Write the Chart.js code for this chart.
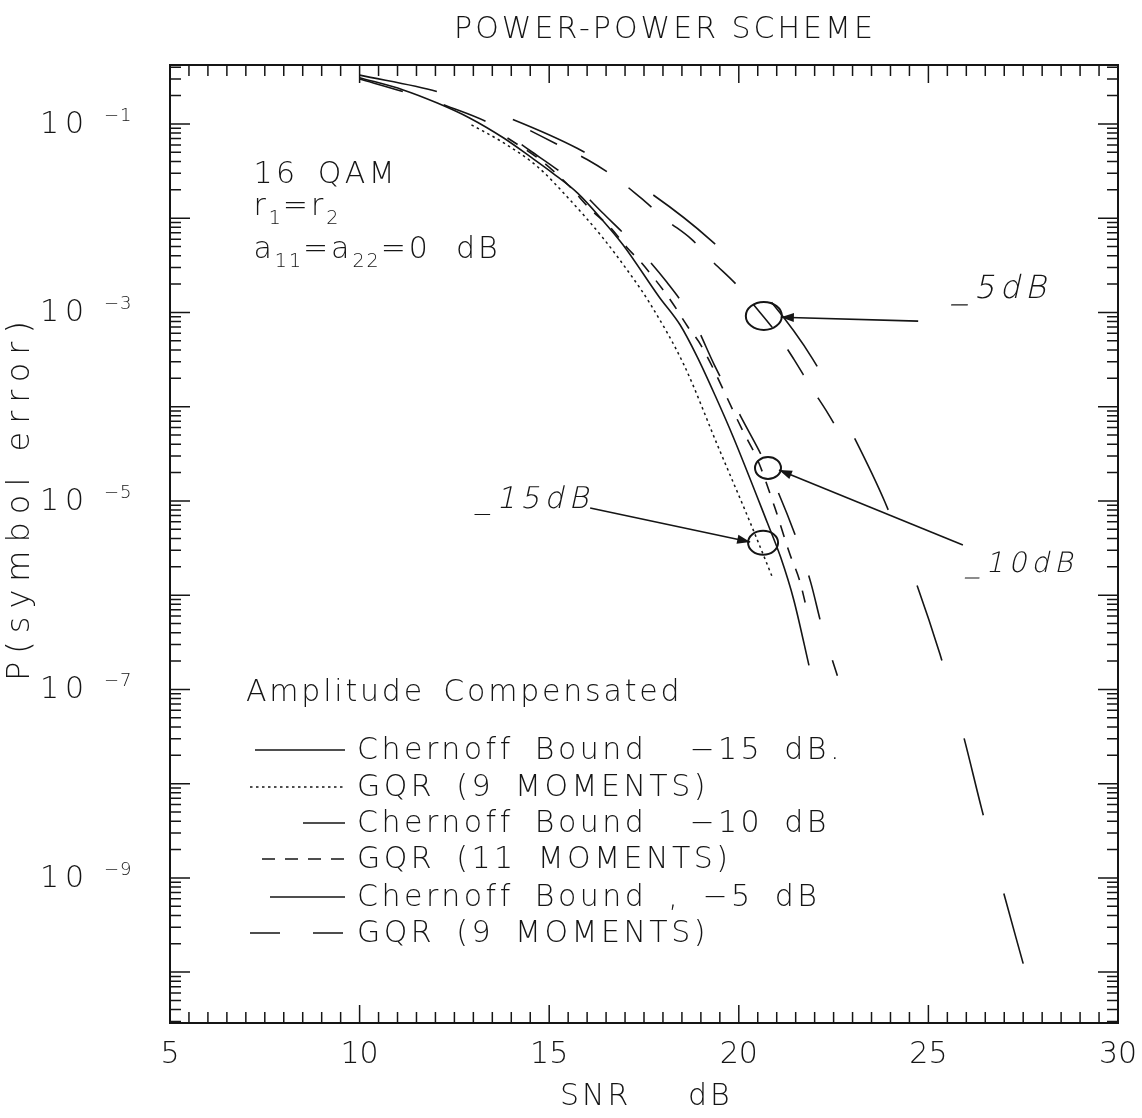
<!DOCTYPE html>
<html>
<head>
<meta charset="utf-8">
<script src="https://cdn.jsdelivr.net/npm/chart.js@4.4.1/dist/chart.umd.min.js"></script>
<style>
html,body{margin:0;padding:0;background:#fff;}
#wrap{width:1142px;height:1118px;position:relative;}
</style>
</head>
<body>
<div id="wrap"><canvas id="c" width="1142" height="1118"></canvas></div>
<script>
// ---------------- data ----------------
const chartTitle = 'POWER-POWER SCHEME';
const xTitle = ['SNR', 'dB'];
const yTitle = 'P(symbol error)';
const xTickValues = [5, 10, 15, 20, 25, 30];
const xMinorStep = 0.5;
const yLabelExponents = [-1, -3, -5, -7, -9];
const yMinExp = -10.54;
const yMaxExp = -0.374;

const seriesNames = [
  'Chernoff Bound  \u221215 dB.',
  'GQR (9 MOMENTS)',
  'Chernoff Bound  \u221210 dB',
  'GQR (11 MOMENTS)',
  'Chernoff Bound , \u22125 dB',
  'GQR (9 MOMENTS)'
];

// Chernoff bound, -15 dB
const snrA = [10.0, 11.15, 12.05, 12.9, 13.8, 14.5, 15.1, 15.75, 16.4, 16.95, 17.9, 18.45, 18.9, 19.37, 19.85, 20.75, 21.1, 21.45, 21.85];
const pA   = [3.1e-1, 2.3e-1, 1.67e-1, 1.16e-1, 7.1e-2, 4.5e-2, 3.0e-2, 1.85e-2, 9.6e-3, 5.2e-3, 1.46e-3, 7.4e-4, 3.4e-4, 1.33e-4, 4.8e-5, 5.9e-6, 2.55e-6, 8.9e-7, 1.8e-7];
// GQR (9 moments), -15 dB
const snrB = [12.95, 13.8, 14.7, 15.55, 16.4, 17.15, 17.65, 18.55, 19.45, 20.3, 20.9];
const pB   = [9.8e-2, 6.3e-2, 3.5e-2, 1.56e-2, 6.3e-3, 2.5e-3, 1.26e-3, 2.8e-4, 3.8e-5, 5.9e-6, 1.5e-6];
// Chernoff bound, -10 dB
const snrC = [10.0, 11.15, 12.4, 13.5, 14.5, 15.45, 16.4, 17.2, 18.1, 18.8, 19.35, 20.05, 20.7, 21.5, 21.9, 22.2, 22.6];
const pC   = [3.0e-1, 2.2e-1, 1.5e-1, 9.8e-2, 5.2e-2, 2.75e-2, 1.15e-2, 5.5e-3, 2.1e-3, 8.3e-4, 2.8e-4, 7.9e-5, 2.5e-5, 4.2e-6, 1.35e-6, 4.5e-7, 1.4e-7];
// GQR (11 moments), -10 dB
const snrD = [13.9, 14.75, 15.5, 16.1, 16.6, 17.05, 17.45, 18.2, 18.65, 19.0, 20.1, 20.5, 20.95, 21.35, 21.6, 21.8];
const pD   = [7.1e-2, 4.2e-2, 2.25e-2, 1.23e-2, 8.1e-3, 4.9e-3, 3.3e-3, 1.35e-3, 7.1e-4, 4.5e-4, 5.6e-5, 2.7e-5, 8.5e-6, 2.7e-6, 1.45e-6, 6.9e-7];
// Chernoff bound, -5 dB
const snrE = [10.0, 12.05, 13.9, 15.75, 17.55, 19.25, 20.75, 21.95, 22.95, 23.85, 24.65, 25.3, 25.9, 26.4, 26.95, 27.5];
const pE   = [3.3e-1, 2.2e-1, 1.18e-1, 5.5e-2, 2.0e-2, 5.9e-3, 1.45e-3, 3.2e-4, 5.6e-5, 9.8e-6, 1.45e-6, 2.4e-7, 3.5e-8, 5.5e-9, 7.8e-10, 1.23e-10];
// GQR (9 moments), -5 dB
const snrF = [14.5, 15.35, 16.0, 16.75, 17.4, 18.1, 18.75, 19.3, 19.95, 20.5, 21.0, 21.45, 21.9, 22.35, 22.75];
const pF   = [8.5e-2, 5.7e-2, 4.2e-2, 2.7e-2, 1.66e-2, 9.5e-3, 6.0e-3, 3.5e-3, 1.95e-3, 1.07e-3, 6.0e-4, 3.2e-4, 1.62e-4, 8.5e-5, 4.5e-5];

// hand-written annotations (anchor in data units: SNR, P)
const noteLabels = ['_5dB', '_10dB', '_15dB'];
const noteLabelSnr = [25.7, 26.05, 13.12];
const noteLabelP   = [1.73e-3, 2.1e-6, 1.03e-5];
const noteCircleSnr = [20.66, 20.77, 20.64];
const noteCircleP   = [9.2e-4, 2.24e-5, 3.6e-6];
const noteArrowFromSnr = [24.73, 25.91, 16.08];
const noteArrowFromP   = [8.1e-4, 3.4e-6, 8.4e-6];
const noteArrowToSnr   = [21.11, 21.06, 20.30];
const noteArrowToP     = [8.9e-4, 2.13e-5, 3.67e-6];

// ---------------- styling ----------------
const FAM = '"DejaVu Sans", "Liberation Sans", sans-serif';
const INK = '#151515';
const styles = [
  {dash: [], width: 1.6},
  {dash: [2.5, 3.5], width: 1.5},
  {dash: [45, 43], width: 1.6},
  {dash: [12, 11], width: 1.6},
  {dash: [79, 81], width: 1.6},
  {dash: [30, 27], width: 1.6}
];
const legendSampleStart = [255, 250, 303, 262, 270, 250];
const legendDash = [[], [2.5, 3.5], [], [13, 10], [], [30, 33]];

function pts(xs, ys) { return xs.map((v, i) => ({x: v, y: ys[i]})); }
const seriesX = [snrA, snrB, snrC, snrD, snrE, snrF];
const seriesY = [pA, pB, pC, pD, pE, pF];
const datasets = seriesX.map((xs, i) => ({
  label: seriesNames[i],
  data: pts(xs, seriesY[i]),
  borderColor: INK,
  backgroundColor: INK,
  borderWidth: styles[i].width,
  borderDash: styles[i].dash,
  borderCapStyle: 'butt',
  pointRadius: 0,
  fill: false,
  cubicInterpolationMode: 'monotone'
}));

function font(size, style) { return (style || '') + ' 200 ' + size + 'px ' + FAM; }

function richText(ctx, x, y, parts, size, spacing) {
  ctx.textAlign = 'left';
  ctx.textBaseline = 'alphabetic';
  for (const p of parts) {
    const fs = p.sub ? Math.round(size * 0.62) : size;
    ctx.font = font(fs);
    ctx.letterSpacing = (p.sub ? 2 : spacing) + 'px';
    ctx.fillText(p.t, x, y + (p.sub ? size * 0.3 : 0));
    x += ctx.measureText(p.t).width;
  }
}

const decor = {
  id: 'decor',
  afterDraw(chart) {
    const {ctx, chartArea: ca, scales: {x, y}} = chart;
    ctx.save();
    ctx.strokeStyle = INK;
    ctx.fillStyle = INK;
    // frame
    ctx.lineWidth = 2;
    ctx.strokeRect(ca.left, ca.top, ca.right - ca.left, ca.bottom - ca.top);
    // inward ticks
    ctx.lineWidth = 1.5;
    ctx.beginPath();
    const nx = Math.round((x.max - x.min) / xMinorStep);
    for (let i = 0; i <= nx; i++) {
      const v = x.min + i * xMinorStep;
      const px = x.getPixelForValue(v);
      const major = Math.abs(v / 5 - Math.round(v / 5)) < 1e-6;
      const L = major ? 18 : 11;
      ctx.moveTo(px, ca.bottom); ctx.lineTo(px, ca.bottom - L);
      ctx.moveTo(px, ca.top); ctx.lineTo(px, ca.top + L);
    }
    for (let e = -11; e <= 0; e++) {
      for (let m = 1; m <= 9; m++) {
        const v = m * Math.pow(10, e);
        if (v < y.min || v > y.max) continue;
        const py = y.getPixelForValue(v);
        const L = m === 1 ? 20 : 11;
        ctx.moveTo(ca.left, py); ctx.lineTo(ca.left + L, py);
        ctx.moveTo(ca.right, py); ctx.lineTo(ca.right - L, py);
      }
    }
    ctx.stroke();

    // y tick labels
    for (const t of y.ticks) {
      const e = Math.round(Math.log10(t.value));
      const py = y.getPixelForValue(t.value);
      ctx.font = font(30);
      ctx.letterSpacing = '6px';
      ctx.textAlign = 'left';
      ctx.textBaseline = 'middle';
      ctx.fillText('10', 40, py + 1);
      ctx.font = font(18);
      ctx.letterSpacing = '1px';
      ctx.fillText('\u2212' + Math.abs(e), 104, py - 8);
    }

    // title
    ctx.font = font(30);
    ctx.letterSpacing = '3px';
    ctx.textAlign = 'center';
    ctx.textBaseline = 'middle';
    ctx.fillText(chartTitle, 665, 30);

    // x title
    ctx.textAlign = 'left';
    ctx.fillText(xTitle[0], 560, 1097);
    ctx.fillText(xTitle[1], 688, 1097);

    // y title
    ctx.save();
    ctx.translate(21, 497);
    ctx.rotate(-Math.PI / 2);
    ctx.textAlign = 'center';
    ctx.font = font(32);
    ctx.letterSpacing = '8px';
    ctx.fillText(yTitle, 0, 0);
    ctx.restore();

    // inner text block
    const tx = x.getPixelForValue(7.2);
    ctx.font = font(30);
    ctx.letterSpacing = '3.5px';
    ctx.textAlign = 'left';
    ctx.textBaseline = 'alphabetic';
    ctx.wordSpacing = '6px';
    ctx.fillText('16 QAM', tx, 183);
    ctx.wordSpacing = '0px';
    richText(ctx, tx, 215, [{t: 'r'}, {t: '1', sub: true}, {t: '='}, {t: 'r'}, {t: '2', sub: true}], 30, 3);
    richText(ctx, tx, 258, [{t: 'a'}, {t: '11', sub: true}, {t: '='}, {t: 'a'}, {t: '22', sub: true}, {t: '=0  dB'}], 30, 3);

    // legend
    ctx.font = font(30);
    ctx.letterSpacing = '2.8px';
    ctx.wordSpacing = '6px';
    ctx.textBaseline = 'middle';
    ctx.fillText('Amplitude Compensated', 246, 693);
    const rowsY = [750, 787, 823, 859, 897, 933];
    for (let i = 0; i < seriesNames.length; i++) {
      const ry = rowsY[i];
      ctx.beginPath();
      ctx.lineWidth = styles[i].width;
      ctx.setLineDash(legendDash[i]);
      ctx.moveTo(legendSampleStart[i], ry);
      ctx.lineTo(345, ry);
      ctx.stroke();
      ctx.setLineDash([]);
      ctx.font = font(30);
      ctx.letterSpacing = '3.5px';
      ctx.wordSpacing = '8px';
      ctx.fillText(seriesNames[i], 357, ry + 1);
    }
    ctx.wordSpacing = '0px';

    // hand-written annotations
    const noteSize = [32, 28, 30];
    for (let i = 0; i < noteLabels.length; i++) {
      const lx = x.getPixelForValue(noteLabelSnr[i]);
      const ly = y.getPixelForValue(noteLabelP[i]);
      ctx.save();
      ctx.translate(lx, ly);
      ctx.transform(1, 0, -0.22, 1, 0, 0);
      ctx.font = font(noteSize[i]);
      ctx.letterSpacing = '5px';
      ctx.textAlign = 'left';
      ctx.textBaseline = 'middle';
      ctx.fillText(noteLabels[i], 0, 0);
      ctx.restore();
      // circle
      ctx.lineWidth = 2;
      ctx.beginPath();
      const rx = [18, 13, 15][i], ryy = [14, 11, 12][i];
      ctx.ellipse(x.getPixelForValue(noteCircleSnr[i]), y.getPixelForValue(noteCircleP[i]), rx, ryy, 0, 0, Math.PI * 2);
      ctx.stroke();
      // arrow
      const x0 = x.getPixelForValue(noteArrowFromSnr[i]), y0 = y.getPixelForValue(noteArrowFromP[i]);
      const x1 = x.getPixelForValue(noteArrowToSnr[i]), y1 = y.getPixelForValue(noteArrowToP[i]);
      ctx.lineWidth = 1.6;
      ctx.beginPath(); ctx.moveTo(x0, y0); ctx.lineTo(x1, y1); ctx.stroke();
      const ang = Math.atan2(y1 - y0, x1 - x0);
      const hl = 13, hw = 4.5;
      ctx.beginPath();
      ctx.moveTo(x1, y1);
      ctx.lineTo(x1 - hl * Math.cos(ang) + hw * Math.sin(ang), y1 - hl * Math.sin(ang) - hw * Math.cos(ang));
      ctx.lineTo(x1 - hl * Math.cos(ang) - hw * Math.sin(ang), y1 - hl * Math.sin(ang) + hw * Math.cos(ang));
      ctx.closePath();
      ctx.fill();
    }
    ctx.restore();
  }
};

new Chart(document.getElementById('c'), {
  type: 'line',
  data: {datasets},
  options: {
    responsive: false,
    animation: false,
    devicePixelRatio: 1,
    layout: {padding: {top: 65, right: 24, left: 0, bottom: 0}},
    plugins: {legend: {display: false}, tooltip: {enabled: false}, title: {display: false}},
    scales: {
      x: {
        type: 'linear', min: 5, max: 30,
        afterBuildTicks: s => { s.ticks = xTickValues.map(v => ({value: v})); },
        afterFit: s => { s.height = 95; s.paddingLeft = 0; s.paddingRight = 0; },
        grid: {display: false, drawTicks: false},
        border: {display: false},
        ticks: {font: {family: FAM, size: 30, weight: '200'}, color: INK, padding: 14, maxRotation: 0, autoSkip: false}
      },
      y: {
        type: 'logarithmic',
        bounds: 'data',
        min: Math.pow(10, yMinExp), max: Math.pow(10, yMaxExp),
        afterBuildTicks: s => { s.ticks = yLabelExponents.map(e => ({value: Math.pow(10, e)})); },
        afterFit: s => { s.width = 170; s.paddingTop = 0; s.paddingBottom = 0; },
        grid: {display: false, drawTicks: false},
        border: {display: false},
        ticks: {display: false}
      }
    }
  },
  plugins: [decor]
});
</script>
</body>
</html>
